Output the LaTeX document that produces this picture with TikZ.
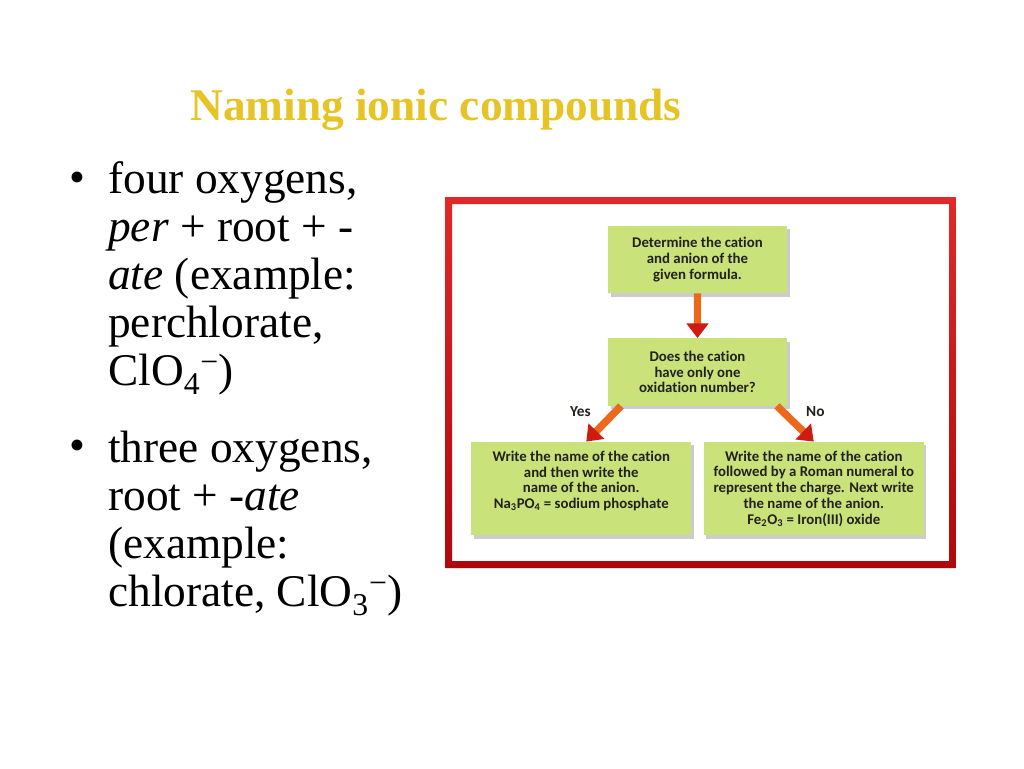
\documentclass[tikz,border=0pt]{standalone}
\usepackage{fontspec}
\setmainfont{Liberation Serif}
\newfontfamily\carlito{Carlito}[Ligatures=NoCommon]
\usepackage{tikz}
\usetikzlibrary{shapes,arrows,arrows.meta,positioning,shadows}
\definecolor{boxgreen}{RGB}{202,226,122}
\definecolor{boxtext}{RGB}{35,33,28}
\definecolor{titlegold}{RGB}{230,196,38}
\definecolor{framered}{RGB}{226,40,40}
\definecolor{framedark}{RGB}{175,8,12}
\definecolor{arroworange}{RGB}{236,104,28}
\definecolor{arrowred}{RGB}{206,28,18}
\newcommand{\slidefont}{\fontsize{34}{36}\selectfont}
\newcommand{\flowfont}{\carlito\bfseries\fontsize{11.1}{11.8}\selectfont}
\newcommand{\answerfont}{\carlito\bfseries\fontsize{11.5}{13}\selectfont}
\tikzstyle{title} = [font=\fontsize{34}{40}\selectfont\bfseries, text=titlegold, inner sep=0pt]
\tikzstyle{bullettext} = [font=\slidefont, align=left, inner sep=0pt]
\tikzstyle{block} = [rectangle, fill=boxgreen, text=boxtext, align=center,
    font=\flowfont, minimum width=134pt, minimum height=50.5pt, inner sep=2pt,
    drop shadow={shadow xshift=2pt, shadow yshift=-2.5pt, fill=black!40, opacity=0.5}]
\tikzstyle{wideblock} = [block, minimum width=165pt, minimum height=70pt]
\tikzstyle{arrow} = [draw=arroworange, line width=5.6pt,
    -{Triangle[length=11pt, width=16pt, color=arrowred]}]
\tikzstyle{answer} = [font=\answerfont, text=boxtext, inner sep=0pt]

\begin{document}
\begin{tikzpicture}[x=0.75pt, y=-0.75pt,
    level 1/.style={level distance=84.4pt},
    level 2/.style={level distance=87.4pt, sibling distance=174.4pt},
    edge from parent/.style={arrow}]
  \useasboundingbox (0,0) rectangle (1024,768);
  \node[title, anchor=base] (title) at (436,120) {Naming ionic compounds};

  % bullet list on the left (base = last line)
  \node[bullettext, anchor=base] (dot1) at (77,192) {\textbullet};
  \node[bullettext, anchor=base west] (item1) at (108,385)
    {four oxygens,\\\textit{per} + root + -\\\textit{ate} (example:\\perchlorate,\\ClO\textsubscript{4}\textsuperscript{−})};
  \node[bullettext, anchor=base] (dot2) at (77,460) {\textbullet};
  \node[bullettext, anchor=base west] (item2) at (108,606)
    {three oxygens,\\root + -\textit{ate}\\(example:\\chlorate, ClO\textsubscript{3}\textsuperscript{−})};

  % red frame round the flow chart
  \shade[top color=framered, bottom color=framedark, even odd rule]
    (445,197) rectangle (956,568) (452,204) rectangle (949,561);

  \node[block] (cation) at (697.5,259.5) {Determine the cation\\and anion of the\\given formula.}
    child {node[block] (oxidation) {Does the cation\\have only one\\oxidation number?}
      child[edge from parent path={([xshift=-57.4pt]\tikzparentnode.south) -- ([xshift=3.75pt]\tikzchildnode.north)}]
        {node[wideblock, text depth=13pt] (single) {Write the name of the cation\\and then write the\\name of the anion.\\Na\textsubscript{3}PO\textsubscript{4} = sodium phosphate}
        edge from parent node[answer, pos=0.15, left=16pt] {Yes}}
      child[edge from parent path={([xshift=59.6pt]\tikzparentnode.south) -- (\tikzchildnode.north)}]
        {node[wideblock] (roman) {Write the name of the cation\\followed by a Roman numeral to\\represent the charge. Next write\\the name of the anion.\\Fe\textsubscript{2}O\textsubscript{3} = Iron(III) oxide}
        edge from parent node[answer, pos=0.15, right=15pt] {No}}
    };
\end{tikzpicture}
\end{document}
